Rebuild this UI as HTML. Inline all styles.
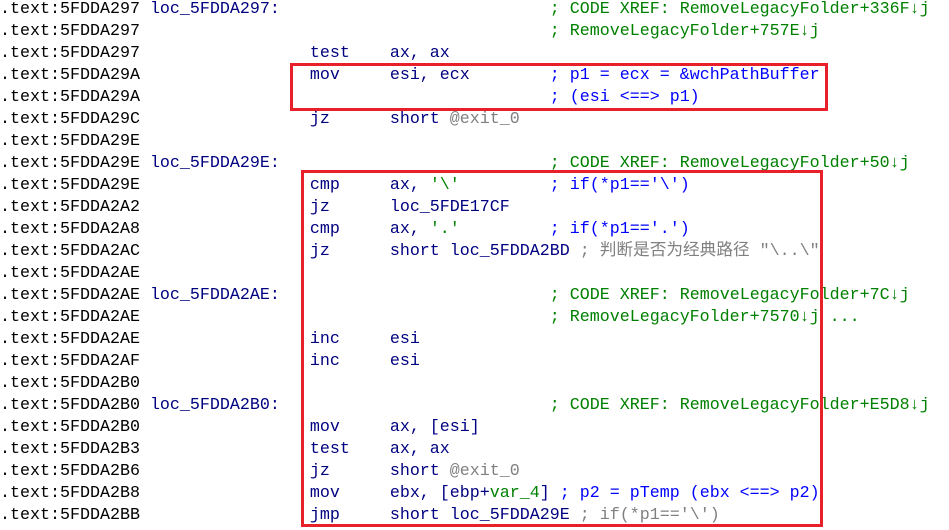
<!DOCTYPE html>
<html><head><meta charset="utf-8"><style>
body{margin:0;width:949px;height:530px;background:#fff;overflow:hidden;position:relative}
pre{position:absolute;left:0;top:-1px;margin:0;font-family:"Liberation Mono","Noto Sans CJK SC",monospace;font-size:16.67px;line-height:22px;color:#000;white-space:pre}
.n{color:#000080}.g{color:#008000}.b{color:#0000ff}.r{color:#808080}
.box{position:absolute;border:3px solid #e8202a;box-sizing:border-box}
</style></head><body>
<pre>.text:5FDDA297 <span class="n">loc_5FDDA297:</span>                           <span class="g">; CODE XREF: RemoveLegacyFolder+336F↓j</span>
.text:5FDDA297                                         <span class="g">; RemoveLegacyFolder+757E↓j</span>
.text:5FDDA297                 <span class="n">test    ax, ax</span>
.text:5FDDA29A                 <span class="n">mov     esi, ecx</span>        <span class="b">; p1 = ecx = &amp;wchPathBuffer</span>
.text:5FDDA29A                                         <span class="b">; (esi &lt;==&gt; p1)</span>
.text:5FDDA29C                 <span class="n">jz      short </span><span class="r">@exit_0</span>
.text:5FDDA29E
.text:5FDDA29E <span class="n">loc_5FDDA29E:</span>                           <span class="g">; CODE XREF: RemoveLegacyFolder+50↓j</span>
.text:5FDDA29E                 <span class="n">cmp     ax, </span><span class="g">'\'</span>         <span class="b">; if(*p1=='\')</span>
.text:5FDDA2A2                 <span class="n">jz      loc_5FDE17CF</span>
.text:5FDDA2A8                 <span class="n">cmp     ax, </span><span class="g">'.'</span>         <span class="b">; if(*p1=='.')</span>
.text:5FDDA2AC                 <span class="n">jz      short loc_5FDDA2BD</span> <span class="r">; 判断是否为经典路径 "\..\"</span>
.text:5FDDA2AE
.text:5FDDA2AE <span class="n">loc_5FDDA2AE:</span>                           <span class="g">; CODE XREF: RemoveLegacyFolder+7C↓j</span>
.text:5FDDA2AE                                         <span class="g">; RemoveLegacyFolder+7570↓j ...</span>
.text:5FDDA2AE                 <span class="n">inc     esi</span>
.text:5FDDA2AF                 <span class="n">inc     esi</span>
.text:5FDDA2B0
.text:5FDDA2B0 <span class="n">loc_5FDDA2B0:</span>                           <span class="g">; CODE XREF: RemoveLegacyFolder+E5D8↓j</span>
.text:5FDDA2B0                 <span class="n">mov     ax, [esi]</span>
.text:5FDDA2B3                 <span class="n">test    ax, ax</span>
.text:5FDDA2B6                 <span class="n">jz      short </span><span class="r">@exit_0</span>
.text:5FDDA2B8                 <span class="n">mov     ebx, [ebp+</span><span class="g">var_4</span><span class="n">]</span> <span class="b">; p2 = pTemp (ebx &lt;==&gt; p2)</span>
.text:5FDDA2BB                 <span class="n">jmp     short loc_5FDDA29E</span> <span class="r">; if(*p1=='\')</span></pre>
<div class="box" style="left:290px;top:63px;width:538px;height:48px"></div>
<div class="box" style="left:301px;top:170px;width:522px;height:357px"></div>
</body></html>
